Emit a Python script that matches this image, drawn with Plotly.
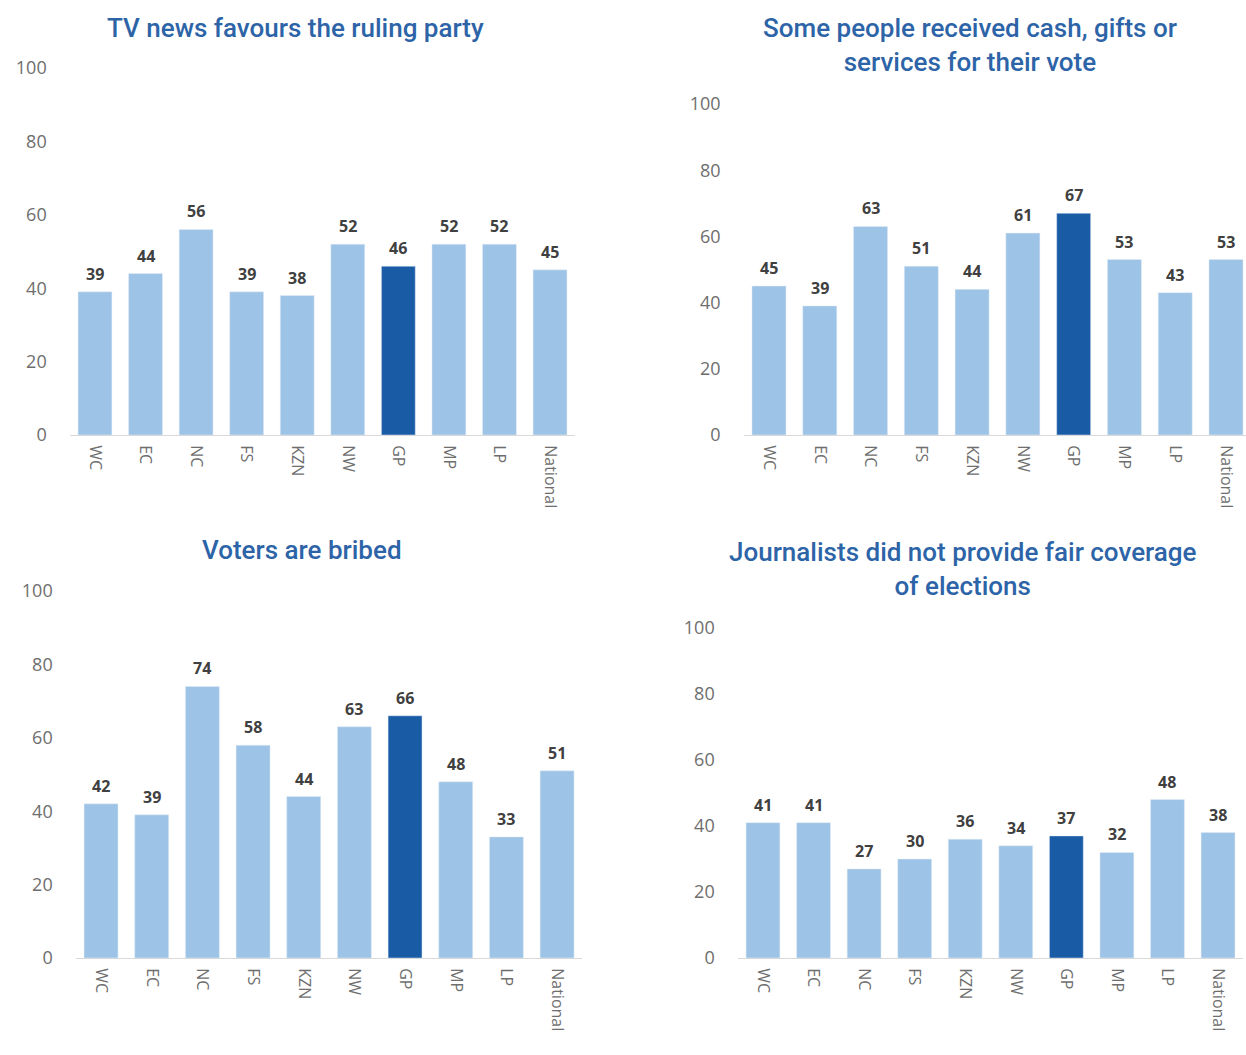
import plotly.graph_objects as go

categories = ["WC", "EC", "NC", "FS", "KZN", "NW", "GP", "MP", "LP", "National"]
highlight = "GP"

titles = [
    "TV news favours the ruling party",
    "Some people received cash, gifts or<br>services for their vote",
    "Voters are bribed",
    "Journalists did not provide fair coverage<br>of elections",
]
tv_news = [39, 44, 56, 39, 38, 52, 46, 52, 52, 45]
cash_gifts = [45, 39, 63, 51, 44, 61, 67, 53, 43, 53]
voters_bribed = [42, 39, 74, 58, 44, 63, 66, 48, 33, 51]
journalists = [41, 41, 27, 30, 36, 34, 37, 32, 48, 38]
y_ticks = [0, 20, 40, 60, 80, 100]

series = [tv_news, cash_gifts, voters_bribed, journalists]

W, H = 1246, 1055
LIGHT = "#9DC3E6"
DARK = "#1A5BA6"
TITLE_COLOR = "#2D64A8"
TICK_COLOR = "#6E6E6E"

# panel layout in pixels: (x_left, x_right, y_zero, y_hundred, xrange_max, title_x, title_y)
panels = [
    (69.7, 575.3, 435, 68, 9.5, 295, 28),
    (743.6, 1246, 435, 104, 9.394, 970, 45),
    (75.7, 582.4, 958, 591, 9.5, 302, 550),
    (737.7, 1243.3, 958, 628, 9.5, 963, 569),
]

fig = go.Figure()
annotations = []
for i, (vals, p) in enumerate(zip(series, panels)):
    xl, xr, y0, y100, xmax, tx, ty = p
    n = "" if i == 0 else str(i + 1)
    colors = [DARK if c == highlight else LIGHT for c in categories]
    fig.add_trace(go.Bar(
        x=categories, y=vals, marker_color=colors, width=0.67,
        showlegend=False, hoverinfo="x+y",
        xaxis="x" + n, yaxis="y" + n,
    ))
    for c, v in zip(categories, vals):
        annotations.append(dict(
            text=str(v), x=c, y=v, xref="x" + n, yref="y" + n,
            xanchor="center", yanchor="middle", yshift=18, showarrow=False,
            font=dict(family="Open Sans", size=16, color="#404040", weight="bold"),
        ))
    fig.update_layout(**{
        "xaxis" + n: dict(
            domain=[xl / W, xr / W], range=[-0.5, xmax], anchor="y" + n,
            tickangle=90, showline=True, linecolor="#D9D9D9", linewidth=1,
            ticks="", showgrid=False, zeroline=False, automargin=False,
            tickfont=dict(family="Open Sans", size=16, color=TICK_COLOR),
            ticklabelstandoff=6,
        ),
        "yaxis" + n: dict(
            domain=[1 - y0 / H, 1 - y100 / H], range=[0, 100], anchor="x" + n,
            tickvals=y_ticks, showgrid=False, zeroline=False, showline=False,
            automargin=False,
            tickfont=dict(family="Open Sans", size=18, color=TICK_COLOR),
            ticklabelstandoff=22,
        ),
    })
    annotations.append(dict(
        text=titles[i], x=tx / W, y=1 - ty / H, xref="paper", yref="paper",
        xanchor="center", yanchor="middle", showarrow=False,
        font=dict(family="Roboto", size=26, color=TITLE_COLOR, weight=500),
        align="center",
    ))

fig.update_layout(
    width=W, height=H, margin=dict(l=0, r=0, t=0, b=0, autoexpand=False),
    paper_bgcolor="white", plot_bgcolor="white",
    annotations=annotations, bargap=0.33,
)

fig.write_html("out.html")
